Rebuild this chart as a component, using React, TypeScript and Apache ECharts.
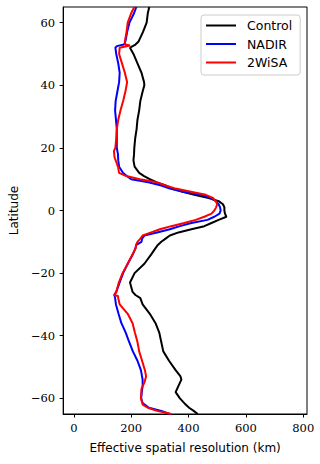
import React, { useEffect, useRef } from "react";
import * as echarts from "echarts";

// Control (black)
const controlLat = [65, 63, 60, 57, 54, 53, 52, 50, 47, 44, 41, 40, 38, 35, 32, 29, 26, 23, 20, 18, 16, 14, 12, 11, 10, 9, 8, 7, 6, 5, 4, 3, 2, 1, 0, -1, -2, -3, -4, -5, -6, -7, -8, -9, -10, -11, -12, -14, -17, -20, -23, -26, -27, -28, -30, -33, -36, -39, -42, -45, -48, -51, -53, -54, -56, -58, -60, -62, -63, -64, -65];
const controlRes = [263, 258, 254, 241, 226, 215, 196, 208, 222, 236, 245, 246, 240, 232, 228, 222, 219, 214, 211, 210, 208, 212, 228, 245, 265, 290, 320, 345, 380, 420, 470, 505, 520, 525, 525, 527, 532, 505, 480, 455, 410, 365, 335, 320, 305, 293, 285, 270, 246, 212, 196, 205, 215, 232, 240, 265, 285, 298, 305, 312, 332, 355, 372, 375, 365, 355, 370, 390, 402, 418, 432];

// NADIR (blue)
const nadirLat = [65, 63, 60, 57, 54, 53, 52.5, 52, 50, 47, 44, 41, 38, 35, 32, 29, 26, 23, 20, 18, 16, 14, 12, 11, 10, 9, 8, 7, 6, 5, 4, 3, 2, 1, 0, -1, -2, -3, -4, -5, -6, -7, -8, -9, -10, -11, -12, -14, -17, -20, -23, -26, -27, -28, -30, -33, -36, -39, -42, -45, -48, -51, -54, -56, -58, -60, -61.5, -63, -64, -65];
const nadirRes = [218, 210, 194, 186, 180, 175, 150, 145, 148, 155, 160, 158, 152, 146, 144, 147, 150, 150, 150, 154, 155, 158, 172, 185, 200, 260, 305, 335, 380, 445, 478, 495, 505, 510, 512, 508, 490, 466, 410, 370, 335, 290, 246, 238, 236, 218, 215, 206, 188, 172, 160, 148, 142, 144, 147, 156, 166, 181, 193, 206, 222, 234, 240, 240, 237, 235, 240, 262, 305, 335];

// 2WiSA (red)
const wisaLat = [65, 63, 60, 57, 54, 53, 52.7, 52, 50, 47, 44, 41, 38, 35, 32, 29, 26, 23, 20, 19, 17, 14, 12, 11, 10, 9, 8, 7, 6, 5, 4, 3, 2, 1, 0, -1, -2, -3, -4, -5, -6, -7, -8, -9, -10, -11, -12, -14, -17, -20, -23, -26, -27, -27.3, -28, -30, -33, -36, -39, -42, -45, -48, -51, -53, -55, -57, -60, -62, -63, -64, -65];
const wisaRes = [211, 200, 188, 184, 178, 180, 196, 160, 158, 168, 178, 186, 180, 172, 163, 155, 150, 148, 145, 140, 142, 154, 158, 183, 230, 290, 320, 355, 408, 460, 485, 495, 500, 496, 490, 480, 455, 425, 385, 340, 300, 270, 240, 232, 222, 217, 216, 205, 188, 170, 157, 148, 140, 154, 155, 160, 188, 205, 213, 222, 228, 238, 248, 252, 246, 236, 234, 240, 258, 290, 340];

const seriesNames = ["Control", "NADIR", "2WiSA"];
const seriesColors = ["#000000", "#0000ff", "#ff0000"];
const xTicks = [0, 200, 400, 600, 800];
const yTicks = [-60, -40, -20, 0, 20, 40, 60];

const zip = (lat: number[], res: number[]) => lat.map((la, i) => [res[i], la]);

export default function App() {
  const ref = useRef<HTMLDivElement>(null);
  useEffect(() => {
    if (!ref.current) return;
    const chart = echarts.init(ref.current, null, { renderer: "svg" });
    const tickFont = { fontFamily: "DejaVu Serif", fontSize: 11.5, color: "#000" };
    const nameFont = { fontFamily: "DejaVu Sans", fontSize: 12, color: "#000" };
    const fmt = (v: number) => (v < 0 ? "\u2212" + Math.abs(v) : String(v));
    const datasets = [zip(controlLat, controlRes), zip(nadirLat, nadirRes), zip(wisaLat, wisaRes)];
    chart.setOption({
      animation: false,
      backgroundColor: "#fff",
      grid: {
        left: 61,
        top: 7,
        right: 13,
        bottom: 50,
        show: true,
        borderColor: "#000",
        borderWidth: 1,
        containLabel: false,
      },
      xAxis: {
        type: "value",
        min: -37,
        max: 813,
        name: "Effective spatial resolution (km)",
        nameLocation: "middle",
        nameGap: 28,
        nameTextStyle: nameFont,
        axisLine: { show: true, onZero: false, lineStyle: { color: "#000", width: 1 } },
        axisTick: { show: true, inside: false, length: 3.5, customValues: xTicks, lineStyle: { color: "#000" } },
        axisLabel: { ...tickFont, margin: 8, customValues: xTicks, formatter: fmt },
        splitLine: { show: false },
      },
      yAxis: {
        type: "value",
        min: -65,
        max: 65,
        name: "Latitude",
        nameLocation: "middle",
        nameGap: 42,
        nameTextStyle: nameFont,
        axisLine: { show: true, onZero: false, lineStyle: { color: "#000", width: 1 } },
        axisTick: { show: true, inside: false, length: 3.5, customValues: yTicks, lineStyle: { color: "#000" } },
        axisLabel: { ...tickFont, margin: 8, customValues: yTicks, formatter: fmt },
        splitLine: { show: false },
      },
      legend: {
        orient: "vertical",
        left: 201,
        top: 15,
        backgroundColor: "#fff",
        borderColor: "#cccccc",
        borderWidth: 1,
        borderRadius: 3,
        padding: [4, 8, 6, 5],
        itemGap: 5.5,
        itemWidth: 30,
        itemHeight: 2,
        icon: "rect",
        textStyle: { fontFamily: "DejaVu Sans", fontSize: 12.5, color: "#000", padding: [0, 0, 0, 6] },
        data: seriesNames,
      },
      series: seriesNames.map((name, i) => ({
        name,
        type: "line",
        data: datasets[i],
        showSymbol: false,
        symbol: "none",
        color: seriesColors[i],
        lineStyle: { color: seriesColors[i], width: 2 },
        z: 2 + i,
      })),
    });
    return () => chart.dispose();
  }, []);
  return (
    <div
      ref={ref}
      style={{ position: "fixed", left: 0, top: 0, width: 320, height: 464 }}
    />
  );
}
